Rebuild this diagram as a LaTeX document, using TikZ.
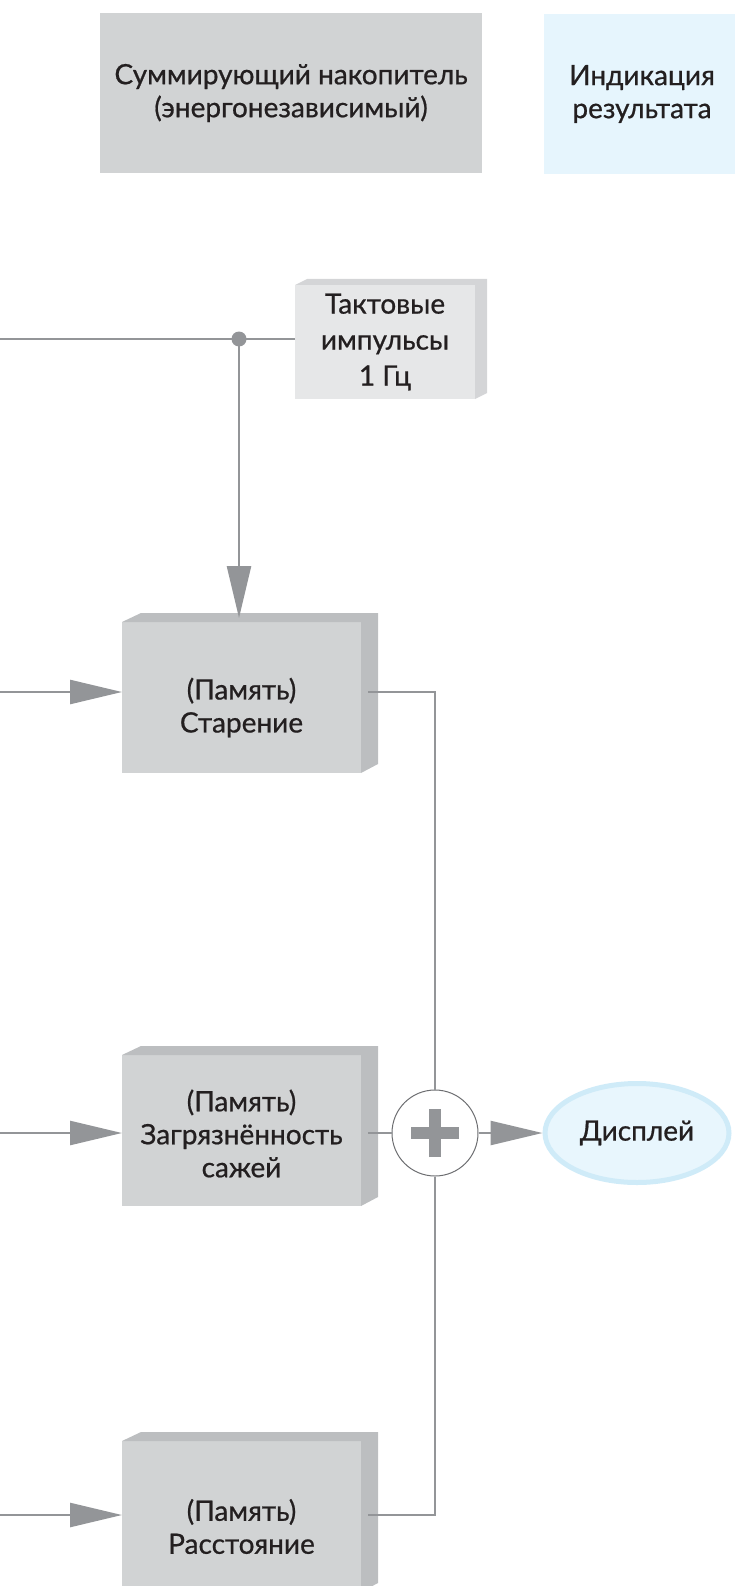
\documentclass[tikz,border=0pt]{standalone}
\usepackage{fontspec}
\setmainfont{Lato}[UprightFeatures={FakeBold=0.7}]
\usetikzlibrary{arrows.meta, shapes.geometric, positioning}

\definecolor{boxgray}{HTML}{D1D3D4}
\definecolor{boxside}{HTML}{BCBEC0}
\definecolor{clockfront}{HTML}{E6E7E8}
\definecolor{clockside}{HTML}{D4D5D7}
\definecolor{linegray}{HTML}{939598}
\definecolor{circline}{HTML}{6D6E71}
\definecolor{infoblue}{HTML}{E6F5FD}
\definecolor{dispfill}{HTML}{E8F6FD}
\definecolor{displine}{HTML}{CFEBF8}
\definecolor{ink}{HTML}{231F20}

\begin{document}
\begin{tikzpicture}[
            x = 1pt, y = -1pt, % pixel units, y going down
            > = {Triangle[length=52pt, width=24pt]}, % arrow head style
            every node/.style = {font=\fontsize{28}{33}\selectfont, text=ink}
        ]

        \tikzstyle{flow}=[draw = linegray, line width = 2.5pt]
        \tikzstyle{plusbar}=[draw = linegray, line width = 12pt]
        \tikzstyle{infobox}=[
            minimum height = 160pt,
            inner sep = 0pt, outer sep = 0pt,
            align = center
        ]
        \tikzstyle{membox}=[
            fill = boxgray,
            minimum width = 239pt, minimum height = 151pt,
            inner sep = 0pt, outer sep = 0pt
        ]
        \tikzstyle{boxtext}=[align = center, inner sep = 0pt]
        \tikzstyle{clockbox}=[
            fill = clockfront,
            minimum width = 180pt, minimum height = 114pt,
            inner sep = 0pt, outer sep = 0pt,
            align = center,
            font = \fontsize{28}{36}\selectfont
        ]
        \tikzstyle{sumnode}=[
            circle, draw = circline, line width = 1pt,
            fill = white, minimum size = 86pt, inner sep = 0pt
        ]
        \tikzstyle{dispnode}=[
            ellipse, draw = displine, line width = 5pt, fill = dispfill,
            minimum width = 184pt, minimum height = 99pt, inner sep = 0pt
        ]
        \tikzstyle{joint}=[circle, fill = linegray, minimum size = 15pt, inner sep = 0pt]

        \useasboundingbox (0,0) rectangle (735,1586);

	\node[infobox, fill=boxgray, minimum width=382pt] (acc) at (291,93) {Суммирующий накопитель\\(энергонезависимый)};
	\node[infobox, fill=infoblue, minimum width=196pt] (ind) at (642,94) {Индикация\\результата};

	\node[clockbox] (clk) at (385,342) {Тактовые\\импульсы\\1 Гц};
	\node[joint] (tap) at (239,339) {};

	\node[membox] (age) at (241.5,697.5) {};
	\node[membox] (soot) at (241.5,1130.5) {};
	\node[membox] (dist) at (241.5,1516.5) {};
	\node[boxtext] (agetext) at ([yshift=-10pt]age.center) {(Память)\\Старение};
	\node[boxtext] (soottext) at ([yshift=-3pt]soot.center) {(Память)\\Загрязнённость\\сажей};
	\node[boxtext] (disttext) at ([yshift=-10pt]dist.center) {(Память)\\Расстояние};

	\node[sumnode] (sum) at (435,1133) {};
	\node[dispnode] (disp) [right=64pt of sum] {Дисплей};

	\coordinate (clkend) at (0,339);
	\coordinate (inage) at (0,692);
	\coordinate (insoot) at (0,1133);
	\coordinate (indist) at (0,1515);

        % 3d faces
	\fill[clockside] (clk.north west) -- ++(12,-6) -- ([shift={(12,-6)}]clk.north east) -- ([shift={(12,-6)}]clk.south east) -- (clk.south east) -- (clk.north east) -- cycle;
	\fill[boxside] (age.north west) -- ++(19,-9) -- ([shift={(17,-9)}]age.north east) -- ([shift={(17,-9)}]age.south east) -- (age.south east) -- (age.north east) -- cycle;
	\fill[boxside] (soot.north west) -- ++(19,-9) -- ([shift={(17,-9)}]soot.north east) -- ([shift={(17,-9)}]soot.south east) -- (soot.south east) -- (soot.north east) -- cycle;
	\fill[boxside] (dist.north west) -- ++(19,-9) -- ([shift={(17,-9)}]dist.north east) -- ([shift={(17,-9)}]dist.south east) -- (dist.south east) -- (dist.north east) -- cycle;

        \draw[flow] (clk.west |- tap) -- (tap.center) -- (clkend);
        \draw[flow, ->] (tap.center) -- ([yshift=4pt]tap.center |- age.north);

        \draw[flow, ->] (inage) -- (inage -| age.west);
        \draw[flow, ->] (insoot) -- (insoot -| soot.west);
        \draw[flow, ->] (indist) -- (indist -| dist.west);

        \draw[flow] ([xshift=7pt]inage -| age.east) -| (sum.north);
        \draw[flow] ([xshift=7pt]insoot -| soot.east) -- (sum.west);
        \draw[flow] ([xshift=7pt]indist -| dist.east) -| (sum.south);
        \draw[flow, ->] (sum.east) -- (disp.west);

        \draw[plusbar] ([xshift=-24pt]sum.center) -- ([xshift=24pt]sum.center);
        \draw[plusbar] ([yshift=-24pt]sum.center) -- ([yshift=24pt]sum.center);

    \end{tikzpicture}
\end{document}
